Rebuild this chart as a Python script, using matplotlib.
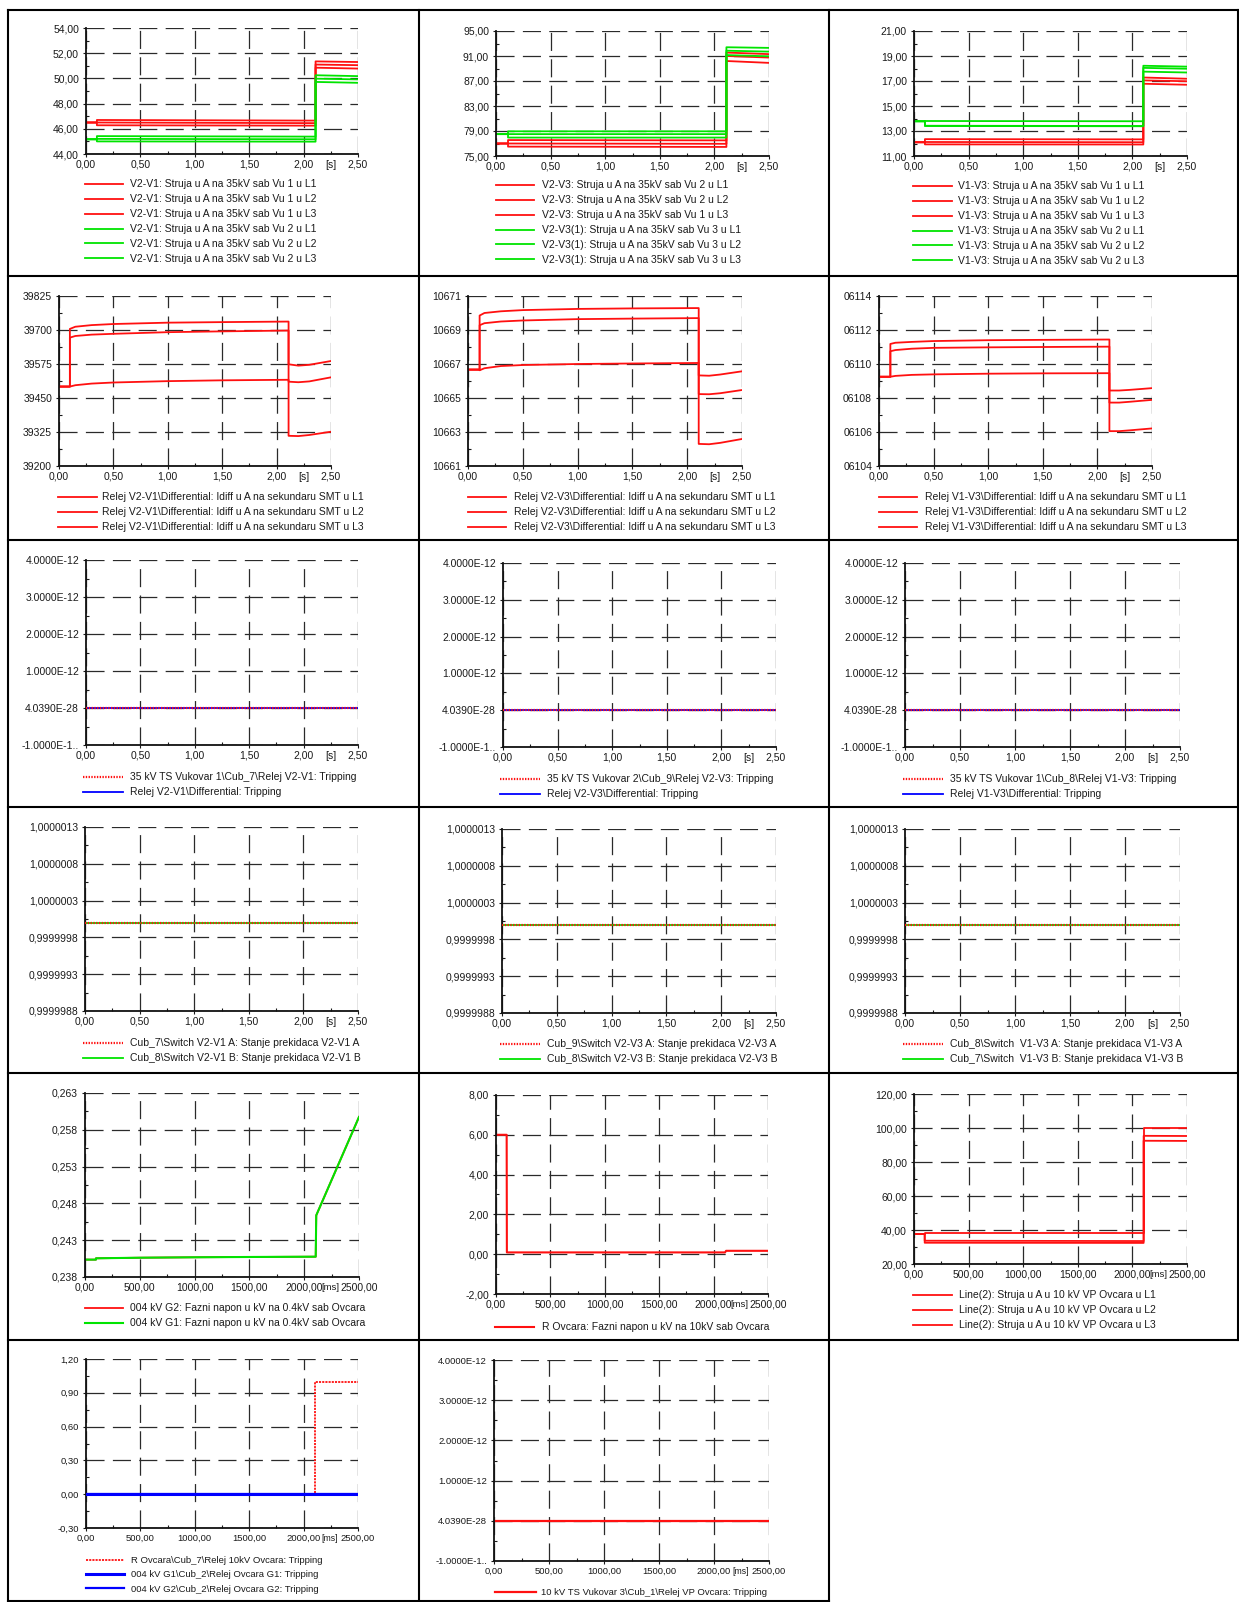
import matplotlib
matplotlib.use('Agg')
import matplotlib.pyplot as plt
from matplotlib.lines import Line2D
from matplotlib.ticker import AutoMinorLocator
import matplotlib.transforms as mtrans

plt.rcParams['font.family'] = ['Liberation Sans', 'DejaVu Sans']
plt.rcParams['lines.scale_dashes'] = False

W, H = 1239, 1602
fig = plt.figure(figsize=(W / 100, H / 100), dpi=100)

RED = '#ff1010'
GREEN = '#00e400'
BLUE = '#0000ff'

# ---------------- tick values / labels ----------------
x_s = [0.0, 0.5, 1.0, 1.5, 2.0, 2.5]
x_s_lab = ['0,00', '0,50', '1,00', '1,50', '2,00', '2,50']
x_ms = [0, 500, 1000, 1500, 2000, 2500]
x_ms_lab = ['0,00', '500,00', '1000,00', '1500,00', '2000,00', '2500,00']

y1_ticks = [44, 46, 48, 50, 52, 54]
y1_lab = ['44,00', '46,00', '48,00', '50,00', '52,00', '54,00']
y2_ticks = [75, 79, 83, 87, 91, 95]
y2_lab = ['75,00', '79,00', '83,00', '87,00', '91,00', '95,00']
y3_ticks = [11, 13, 15, 17, 19, 21]
y3_lab = ['11,00', '13,00', '15,00', '17,00', '19,00', '21,00']
y4_ticks = [39200, 39325, 39450, 39575, 39700, 39825]
y4_lab = ['39200', '39325', '39450', '39575', '39700', '39825']
y5_ticks = [10661, 10663, 10665, 10667, 10669, 10671]
y5_lab = ['10661', '10663', '10665', '10667', '10669', '10671']
y6_ticks = [6104, 6106, 6108, 6110, 6112, 6114]
y6_lab = ['06104', '06106', '06108', '06110', '06112', '06114']
ytrip_ticks = [-1e-12, 4.039e-28, 1e-12, 2e-12, 3e-12, 4e-12]
ytrip_lab = ['-1.0000E-1..', '4.0390E-28', '1.0000E-12', '2.0000E-12', '3.0000E-12', '4.0000E-12']
ysw_ticks = [0.9999988, 0.9999993, 0.9999998, 1.0000003, 1.0000008, 1.0000013]
ysw_lab = ['0,9999988', '0,9999993', '0,9999998', '1,0000003', '1,0000008', '1,0000013']
y13_ticks = [0.238, 0.243, 0.248, 0.253, 0.258, 0.263]
y13_lab = ['0,238', '0,243', '0,248', '0,253', '0,258', '0,263']
y14_ticks = [-2, 0, 2, 4, 6, 8]
y14_lab = ['-2,00', '0,00', '2,00', '4,00', '6,00', '8,00']
y15_ticks = [20, 40, 60, 80, 100, 120]
y15_lab = ['20,00', '40,00', '60,00', '80,00', '100,00', '120,00']
y16_ticks = [-0.3, 0.0, 0.3, 0.6, 0.9, 1.2]
y16_lab = ['-0,30', '0,00', '0,30', '0,60', '0,90', '1,20']

# ---------------- data ----------------
t_a = [0.0, 0.10, 0.10, 2.11, 2.11, 2.50]
v21_vu1_L1 = [46.50, 46.50, 46.70, 46.65, 51.35, 51.30]
v21_vu1_L2 = [46.50, 46.50, 46.50, 46.45, 51.10, 51.05]
v21_vu1_L3 = [46.50, 46.50, 46.28, 46.25, 50.85, 50.78]
v21_vu2_L1 = [45.17, 45.17, 45.42, 45.38, 50.25, 50.18]
v21_vu2_L2 = [45.17, 45.17, 45.20, 45.17, 49.98, 49.92]
v21_vu2_L3 = [45.17, 45.17, 45.00, 44.98, 49.72, 49.65]

t_b = [0.0, 0.11, 0.11, 2.11, 2.11, 2.50]
v23_red_L1 = [77.0, 77.0, 77.55, 77.50, 91.55, 91.30]
v23_red_L2 = [77.0, 77.0, 77.00, 76.95, 91.00, 90.75]
v23_red_L3 = [77.0, 77.0, 76.50, 76.45, 90.20, 89.90]
v23_grn_L1 = [78.5, 78.5, 78.95, 78.95, 92.40, 92.30]
v23_grn_L2 = [78.5, 78.5, 78.50, 78.50, 91.85, 91.70]
v23_grn_L3 = [78.5, 78.5, 77.95, 77.95, 91.15, 90.95]

t_c = [0.0, 0.10, 0.10, 2.10, 2.10, 2.50]
v13_red_L1 = [12.10, 12.10, 12.35, 12.33, 17.28, 17.18]
v13_red_L2 = [12.10, 12.10, 12.12, 12.10, 17.05, 16.98]
v13_red_L3 = [12.10, 12.10, 11.93, 11.92, 16.78, 16.70]
v13_grn_L1 = [13.78, 13.78, 13.80, 13.78, 18.22, 18.15]
v13_grn_L2 = [13.78, 13.78, 13.42, 13.40, 18.05, 17.98]
v13_grn_L3 = [13.78, 13.78, 13.40, 13.38, 17.75, 17.68]

t_d = [0.0, 0.10, 0.10, 0.15, 0.30, 0.50, 1.00, 1.50, 2.11, 2.11, 2.20, 2.30, 2.50]
idiff21_L1 = [39492, 39492, 39704, 39712, 39718, 39722, 39727, 39729, 39731, 39574, 39569, 39572, 39586]
idiff21_L2 = [39492, 39492, 39672, 39678, 39683, 39686, 39692, 39695, 39698, 39510, 39508, 39511, 39526]
idiff21_L3 = [39492, 39492, 39492, 39497, 39503, 39507, 39512, 39515, 39517, 39311, 39310, 39314, 39326]

t_e = [0.0, 0.106, 0.106, 0.15, 0.30, 0.50, 1.00, 1.50, 2.105, 2.105, 2.20, 2.30, 2.50]
idiff23_L1 = [10666.67, 10666.67, 10669.85, 10670.00, 10670.10, 10670.17, 10670.24, 10670.27, 10670.29,
              10666.33, 10666.31, 10666.38, 10666.57]
idiff23_L2 = [10666.67, 10666.67, 10669.28, 10669.40, 10669.50, 10669.56, 10669.64, 10669.67, 10669.70,
              10665.23, 10665.22, 10665.28, 10665.47]
idiff23_L3 = [10666.67, 10666.67, 10666.63, 10666.75, 10666.88, 10666.94, 10667.00, 10667.03, 10667.06,
              10662.30, 10662.28, 10662.36, 10662.59]

t_f = [0.0, 0.104, 0.104, 0.15, 0.30, 0.50, 1.00, 1.50, 2.11, 2.11, 2.20, 2.30, 2.50]
idiff13_L1 = [6109.25, 6109.25, 6111.18, 6111.25, 6111.30, 6111.35, 6111.40, 6111.42, 6111.44,
              6108.44, 6108.44, 6108.48, 6108.58]
idiff13_L2 = [6109.25, 6109.25, 6110.75, 6110.82, 6110.90, 6110.95, 6110.98, 6111.00, 6111.02,
              6107.73, 6107.73, 6107.78, 6107.89]
idiff13_L3 = [6109.25, 6109.25, 6109.25, 6109.30, 6109.36, 6109.39, 6109.43, 6109.45, 6109.46,
              6106.05, 6106.05, 6106.10, 6106.21]

t_const_s = [0.0, 2.5]
trip_zero = [0.0, 0.0]
switch_one = [1.0, 1.0]

t_g = [0, 100, 100, 500, 1000, 1500, 2105, 2110, 2500]
u04_G2 = [0.24036, 0.24036, 0.24054, 0.24062, 0.24068, 0.24072, 0.24076, 0.24638, 0.25974]
u04_G1 = [0.24036, 0.24036, 0.24054, 0.24062, 0.24068, 0.24072, 0.24076, 0.24638, 0.25974]

t_h = [0, 98, 100, 2105, 2115, 2500]
u10_R = [6.0, 6.0, 0.09, 0.09, 0.17, 0.17]

t_i = [0, 98, 98, 2103, 2103, 2500]
i10_L1 = [37.7, 37.7, 38.5, 38.5, 99.8, 99.8]
i10_L2 = [37.7, 37.7, 33.7, 33.5, 95.4, 95.3]
i10_L3 = [37.7, 37.7, 32.5, 32.4, 92.5, 92.4]

t_j = [0, 2105, 2105, 2500]
trip_R = [0, 0, 1, 1]
t_const_ms = [0, 2500]

# ---------------- helpers ----------------
def add_axes(box):
    l, t, r, b = box
    return fig.add_axes([l / W, 1 - b / H, (r - l) / W, (b - t) / H])


def style(ax, xt, xl, yt, yl, unit, unit_x, fs=7.5, ufs=None):
    ax.set_xlim(xt[0], xt[-1])
    ax.set_ylim(yt[0], yt[-1])
    ax.set_xticks(xt)
    ax.set_xticklabels(xl)
    ax.set_yticks(yt)
    ax.set_yticklabels(yl)
    ax.xaxis.set_minor_locator(AutoMinorLocator(2))
    ax.yaxis.set_minor_locator(AutoMinorLocator(2))
    ax.tick_params(which='major', direction='out', length=2.5, width=0.8,
                   labelsize=fs, colors='#1a1a1a')
    ax.tick_params(axis='x', which='major', pad=1.5)
    ax.tick_params(axis='y', which='major', pad=2.5)
    ax.tick_params(which='minor', direction='in', length=2.5, width=0.8, colors='#1a1a1a')
    for s in ['top', 'right']:
        ax.spines[s].set_visible(False)
    for s in ['left', 'bottom']:
        ax.spines[s].set_linewidth(1.3)
        ax.spines[s].set_color('#111111')
    ax.set_axisbelow(True)
    ax.grid(True, which='major', color='#2a2a2a', linewidth=0.9, linestyle=(0, (13, 6)))
    trans = mtrans.offset_copy(ax.get_xaxis_transform(), fig=fig, y=-4.0, units='points')
    ax.text(unit_x, 0, unit, transform=trans, ha='center', va='top',
            fontsize=ufs if ufs else fs, color='#1a1a1a')


def legend(ax, x_left, y_first, hlen_px, gap_px, fs=7.5, pitch=15):
    fpx = fs * 100 / 72
    th = 10.1 * fs / 7.5
    leg = ax.legend(loc='upper left',
                    bbox_to_anchor=(x_left / W, 1 - (y_first - th / 2 + 0.5) / H),
                    bbox_transform=fig.transFigure, frameon=False, fontsize=fs,
                    handlelength=hlen_px / fpx, handletextpad=gap_px / fpx,
                    labelspacing=(pitch - th) / fpx, borderpad=0, borderaxespad=0)
    for txt in leg.get_texts():
        txt.set_color('#1a1a1a')
    return leg


LW = 1.3

# ---------------- Row 1 ----------------
ax = add_axes((86, 28, 358, 154))
for v, lab in [(v21_vu1_L1, 'L1'), (v21_vu1_L2, 'L2'), (v21_vu1_L3, 'L3')]:
    ax.plot(t_a, v, color=RED, lw=LW, label='V2-V1: Struja u A na 35kV sab Vu 1 u ' + lab)
for v, lab in [(v21_vu2_L1, 'L1'), (v21_vu2_L2, 'L2'), (v21_vu2_L3, 'L3')]:
    ax.plot(t_a, v, color=GREEN, lw=LW, label='V2-V1: Struja u A na 35kV sab Vu 2 u ' + lab)
style(ax, x_s, x_s_lab, y1_ticks, y1_lab, '[s]', 2.25)
legend(ax, 85, 184, 38, 7)

ax = add_axes((496, 31, 769, 156))
for v, lab in [(v23_red_L1, 'V2-V3: Struja u A na 35kV sab Vu 2 u L1'),
               (v23_red_L2, 'V2-V3: Struja u A na 35kV sab Vu 2 u L2'),
               (v23_red_L3, 'V2-V3: Struja u A na 35kV sab Vu 1 u L3')]:
    ax.plot(t_b, v, color=RED, lw=LW, label=lab)
for v, lab in [(v23_grn_L1, 'L1'), (v23_grn_L2, 'L2'), (v23_grn_L3, 'L3')]:
    ax.plot(t_b, v, color=GREEN, lw=LW, label='V2-V3(1): Struja u A na 35kV sab Vu 3 u ' + lab)
style(ax, x_s, x_s_lab, y2_ticks, y2_lab, '[s]', 2.25)
legend(ax, 496, 185, 38, 8)

ax = add_axes((914, 31, 1187, 156))
for v, lab in [(v13_red_L1, 'L1'), (v13_red_L2, 'L2'), (v13_red_L3, 'L3')]:
    ax.plot(t_c, v, color=RED, lw=LW, label='V1-V3: Struja u A na 35kV sab Vu 1 u ' + lab)
for v, lab in [(v13_grn_L1, 'L1'), (v13_grn_L2, 'L2'), (v13_grn_L3, 'L3')]:
    ax.plot(t_c, v, color=GREEN, lw=LW, label='V1-V3: Struja u A na 35kV sab Vu 2 u ' + lab)
style(ax, x_s, x_s_lab, y3_ticks, y3_lab, '[s]', 2.25)
legend(ax, 913, 186, 39, 6)

# ---------------- Row 2 ----------------
ax = add_axes((59, 296, 331, 466))
for v, lab in [(idiff21_L1, 'L1'), (idiff21_L2, 'L2'), (idiff21_L3, 'L3')]:
    ax.plot(t_d, v, color=RED, lw=LW,
            label=r'Relej V2-V1\Differential: Idiff u A na sekundaru SMT u ' + lab)
style(ax, x_s, x_s_lab, y4_ticks, y4_lab, '[s]', 2.25)
legend(ax, 58, 497, 39, 5, pitch=15)

ax = add_axes((468, 296, 742, 466))
for v, lab in [(idiff23_L1, 'L1'), (idiff23_L2, 'L2'), (idiff23_L3, 'L3')]:
    ax.plot(t_e, v, color=RED, lw=LW,
            label=r'Relej V2-V3\Differential: Idiff u A na sekundaru SMT u ' + lab)
style(ax, x_s, x_s_lab, y5_ticks, y5_lab, '[s]', 2.25)
legend(ax, 468, 497, 38, 8, pitch=15)

ax = add_axes((879, 296, 1152, 466))
for v, lab in [(idiff13_L1, 'L1'), (idiff13_L2, 'L2'), (idiff13_L3, 'L3')]:
    ax.plot(t_f, v, color=RED, lw=LW,
            label=r'Relej V1-V3\Differential: Idiff u A na sekundaru SMT u ' + lab)
style(ax, x_s, x_s_lab, y6_ticks, y6_lab, '[s]', 2.25)
legend(ax, 879, 497, 38, 8, pitch=15)

# ---------------- Row 3 (tripping) ----------------
trip_panels = [
    ((86, 560, 358, 745), r'35 kV TS Vukovar 1\Cub_7\Relej V2-V1: Tripping',
     r'Relej V2-V1\Differential: Tripping', 83, 777),
    ((503, 563, 776, 747), r'35 kV TS Vukovar 2\Cub_9\Relej V2-V3: Tripping',
     r'Relej V2-V3\Differential: Tripping', 500, 779),
    ((905, 563, 1180, 747), r'35 kV TS Vukovar 1\Cub_8\Relej V1-V3: Tripping',
     r'Relej V1-V3\Differential: Tripping', 903, 779),
]
for box, lab_a, lab_b, lx, ly in trip_panels:
    ax = add_axes(box)
    ax.plot(t_const_s, trip_zero, color=RED, lw=1.6, linestyle=(0, (1, 1)), label=lab_a, zorder=4)
    ax.plot(t_const_s, trip_zero, color=BLUE, lw=1.3, label=lab_b, zorder=3)
    style(ax, x_s, x_s_lab, ytrip_ticks, ytrip_lab, '[s]', 2.25)
    legend(ax, lx, ly, 40, 7)

# ---------------- Row 4 (switch states) ----------------
sw_panels = [
    ((85, 827, 358, 1011), r'Cub_7\Switch V2-V1 A: Stanje prekidaca V2-V1 A',
     r'Cub_8\Switch V2-V1 B: Stanje prekidaca V2-V1 B', 83, 1043),
    ((502, 829, 776, 1013), r'Cub_9\Switch V2-V3 A: Stanje prekidaca V2-V3 A',
     r'Cub_8\Switch V2-V3 B: Stanje prekidaca V2-V3 B', 500, 1044),
    ((905, 829, 1180, 1013), r'Cub_8\Switch  V1-V3 A: Stanje prekidaca V1-V3 A',
     r'Cub_7\Switch  V1-V3 B: Stanje prekidaca V1-V3 B', 903, 1044),
]
for box, lab_a, lab_b, lx, ly in sw_panels:
    ax = add_axes(box)
    ax.plot(t_const_s, switch_one, color=RED, lw=1.6, linestyle=(0, (1, 1)), label=lab_a, zorder=4)
    ax.plot(t_const_s, switch_one, color=GREEN, lw=1.3, label=lab_b, zorder=3)
    style(ax, x_s, x_s_lab, ysw_ticks, ysw_lab, '[s]', 2.25)
    legend(ax, lx, ly, 40, 7)

# ---------------- Row 5 ----------------
ax = add_axes((85, 1093, 359, 1277))
ax.plot(t_g, u04_G2, color=RED, lw=LW, label='004 kV G2: Fazni napon u kV na 0.4kV sab Ovcara')
ax.plot(t_g, u04_G1, color=GREEN, lw=1.5, label='004 kV G1: Fazni napon u kV na 0.4kV sab Ovcara')
style(ax, x_ms, x_ms_lab, y13_ticks, y13_lab, '[ms]', 2240, ufs=6.8)
legend(ax, 85, 1308, 38, 7)

ax = add_axes((496, 1095, 768, 1294))
ax.plot(t_h, u10_R, color=RED, lw=1.5, label='R Ovcara: Fazni napon u kV na 10kV sab Ovcara')
style(ax, x_ms, x_ms_lab, y14_ticks, y14_lab, '[ms]', 2240, ufs=6.8)
legend(ax, 495, 1327, 39, 8)

ax = add_axes((914, 1094, 1187, 1264))
for v, lab in [(i10_L1, 'L1'), (i10_L2, 'L2'), (i10_L3, 'L3')]:
    ax.plot(t_i, v, color=RED, lw=LW, label='Line(2): Struja u A u 10 kV VP Ovcara u ' + lab)
style(ax, x_ms, x_ms_lab, y15_ticks, y15_lab, '[ms]', 2240, ufs=6.8)
legend(ax, 913, 1295, 39, 7)

# ---------------- Row 6 ----------------
ax = add_axes((86, 1359, 358, 1528))
ax.plot(t_j, trip_R, color=RED, lw=1.3, linestyle=(0, (1.5, 0.8)),
        label=r'R Ovcara\Cub_7\Relej 10kV Ovcara: Tripping', zorder=2)
ax.plot(t_const_ms, trip_zero, color=BLUE, lw=2.2,
        label=r'004 kV G1\Cub_2\Relej Ovcara G1: Tripping', zorder=3)
ax.plot(t_const_ms, trip_zero, color=BLUE, lw=1.6,
        label=r'004 kV G2\Cub_2\Relej Ovcara G2: Tripping', zorder=3)
style(ax, x_ms, x_ms_lab, y16_ticks, y16_lab, '[ms]', 2240, fs=6.8, ufs=6.2)
legend(ax, 86, 1560, 38, 7, fs=6.8, pitch=14.5)

ax = add_axes((494, 1360, 769, 1561))
ax.plot(t_const_ms, trip_zero, color=RED, lw=1.6,
        label=r'10 kV TS Vukovar 3\Cub_1\Relej VP Ovcara: Tripping')
style(ax, x_ms, x_ms_lab, ytrip_ticks, ytrip_lab, '[ms]', 2240, fs=6.8, ufs=6.2)
legend(ax, 495, 1592, 41, 5, fs=6.8)

# ---------------- table frame ----------------
def hline(y, x0, x1):
    fig.add_artist(Line2D([x0 / W, x1 / W], [1 - y / H, 1 - y / H],
                          transform=fig.transFigure, color='black', lw=1.5))


def vline(x, y0, y1):
    fig.add_artist(Line2D([x / W, x / W], [1 - y0 / H, 1 - y1 / H],
                          transform=fig.transFigure, color='black', lw=1.5))


for y in [10, 276, 540, 807, 1073, 1340]:
    hline(y, 8, 1238)
hline(1601, 8, 829)
vline(8, 10, 1602)
vline(419, 10, 1602)
vline(829, 10, 1602)
vline(1238, 10, 1340)

fig.savefig('out.png', dpi=100, facecolor='white')
